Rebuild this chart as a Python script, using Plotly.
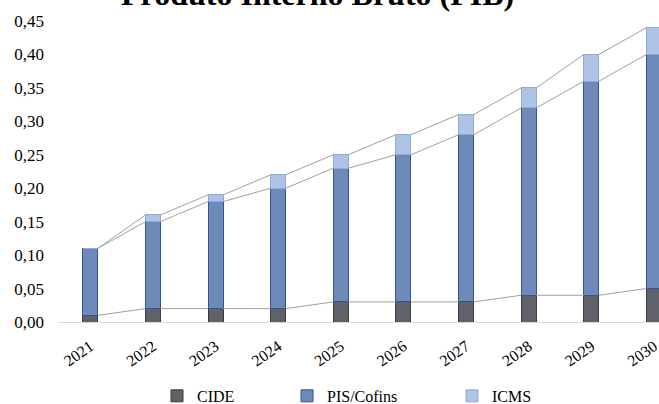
import plotly.graph_objects as go

years = ["2021", "2022", "2023", "2024", "2025", "2026", "2027", "2028", "2029", "2030"]
cide = [0.01, 0.02, 0.02, 0.02, 0.03, 0.03, 0.03, 0.04, 0.04, 0.05]
pis_cofins = [0.10, 0.13, 0.16, 0.18, 0.20, 0.22, 0.25, 0.28, 0.32, 0.35]
icms = [0.00, 0.01, 0.01, 0.02, 0.02, 0.03, 0.03, 0.03, 0.04, 0.04]
y_ticks = [0.0, 0.05, 0.10, 0.15, 0.20, 0.25, 0.30, 0.35, 0.40, 0.45]

title = "Produto Interno Bruto (PIB)"
FONT = "Liberation Serif, Times New Roman, serif"
BAR_W = 0.24

xpos = list(range(len(years)))

fig = go.Figure()

series = [
    ("CIDE", cide, "#5f6369", "#3b3b3b", "legend"),
    ("PIS/Cofins", pis_cofins, "#6d8ab8", "#2f5597", "legend2"),
    ("ICMS", icms, "#afc3e6", "#8eaadb", "legend3"),
]
for name, vals, fill, line, leg in series:
    fig.add_trace(go.Bar(
        x=xpos, y=vals, name=name, width=BAR_W,
        marker=dict(color=fill, line=dict(color=line, width=1)),
        legend=leg, hoverinfo="skip",
    ))

# series lines connecting the tops of each stacked segment
cum = [0.0] * len(years)
for name, vals, *_ in series:
    cum = [c + v for c, v in zip(cum, vals)]
    lx, ly = [], []
    for i in range(len(years) - 1):
        lx += [xpos[i] + BAR_W / 2, xpos[i + 1] - BAR_W / 2, None]
        ly += [cum[i], cum[i + 1], None]
    fig.add_trace(go.Scatter(
        x=lx, y=ly, mode="lines", line=dict(color="#a0a0a0", width=1),
        showlegend=False, hoverinfo="skip",
    ))

fig.add_annotation(
    text="<b>" + title + "</b>", xref="paper", yref="paper",
    x=(317 - 59) / 600, y=1.024, xanchor="center", yanchor="bottom",
    showarrow=False, font=dict(family=FONT, size=32, color="#000000"),
)

leg_common = dict(orientation="h", xref="container", yref="container",
                  xanchor="left", yanchor="middle", y=0.02,
                  font=dict(family=FONT, size=16, color="#000000"),
                  bgcolor="rgba(0,0,0,0)")

fig.update_layout(
    width=659, height=404,
    margin=dict(l=59, r=0, t=21, b=82),
    paper_bgcolor="white", plot_bgcolor="white",
    barmode="stack",
    separators=",.",
    font=dict(family=FONT, size=16, color="#000000"),
    xaxis=dict(
        range=[-0.5, 9.08], tickmode="array", tickvals=xpos, ticktext=years,
        tickangle=-35, showgrid=False, zeroline=False, showline=True,
        linecolor="#d9d9d9", linewidth=1, ticks="", ticklabelstandoff=8,
        ticklabeloverflow="allow",
        tickfont=dict(family=FONT, size=16, color="#000000"),
    ),
    yaxis=dict(
        range=[0, 0.45], tickmode="array", tickvals=y_ticks, tickformat=".2f",
        showgrid=False, zeroline=False, showline=False, ticks="",
        ticklabelstandoff=14,
        tickfont=dict(family=FONT, size=17, color="#000000"),
    ),
    legend=dict(x=157 / 659, **leg_common),
    legend2=dict(x=287 / 659, **leg_common),
    legend3=dict(x=452 / 659, **leg_common),
    showlegend=True,
)

fig.write_html("out.html")
